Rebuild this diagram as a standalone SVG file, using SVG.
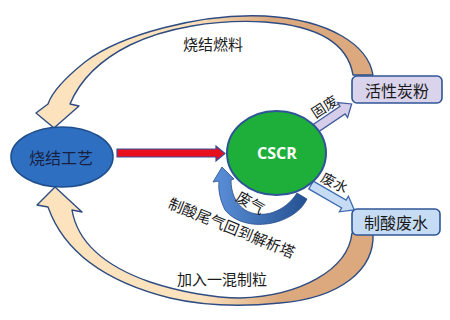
<svg xmlns="http://www.w3.org/2000/svg" width="450" height="320" viewBox="0 0 450 320">
<style>
.t{font-family:"Noto Sans CJK SC","Noto Sans",sans-serif;fill:#1a1a1a;text-anchor:middle;dominant-baseline:central}
.band{stroke:#2E4C82;stroke-width:1.4;stroke-linejoin:round}
.box{stroke:#2F5597;stroke-width:1.6}
</style>
<defs>
<linearGradient id="gTop" gradientUnits="userSpaceOnUse" x1="190" y1="0" x2="270" y2="0">
<stop offset="0" stop-color="#FCE3BE"/><stop offset="1" stop-color="#DBA97D"/>
</linearGradient>
<linearGradient id="gBot" gradientUnits="userSpaceOnUse" x1="200" y1="0" x2="280" y2="0">
<stop offset="0" stop-color="#FCE3BE"/><stop offset="1" stop-color="#DBA97D"/>
</linearGradient>
<linearGradient id="gLoop" gradientUnits="userSpaceOnUse" x1="215" y1="0" x2="308" y2="0">
<stop offset="0" stop-color="#5A8FD8"/><stop offset="1" stop-color="#24508F"/>
</linearGradient>
</defs>
<rect width="450" height="320" fill="#ffffff"/>
<g id="connectors">
<path class="band" fill="url(#gTop)" d="M373,75 C368,45 330,20 265,16 C200,13 120,35 85,62 C65,78 52,92 48,104 L36,113 L54,128 L79,106 L70,104 C80,80 100,60 130,45 C165,28 215,19 265,22 C320,26 348,45 353,75 Z"/>
<path class="band" fill="url(#gBot)" d="M373,233 C375,270 340,298 280,303 C240,307 200,305 170,298 C110,283 65,255 48,207 L37,205 L55,187 L82,212 L72,210 C78,245 110,268 150,282 C180,292 215,298 240,298 C300,296 348,270 352,233 Z"/>
<polygon points="117,149 216,149 216,146 225,153.5 216,161 216,157 117,157" fill="#E8101C" stroke="#3A4FA0" stroke-width="1.2"/>
<polygon transform="translate(316,128) rotate(-34)" points="0,-4.5 32,-4.5 32,-9 43,0 32,9 32,4.5 0,4.5" fill="#D6CDEA" stroke="#3F5C9C" stroke-width="1.3"/>
<polygon transform="translate(311,185) rotate(30)" points="0,-4.5 38,-4.5 38,-9 50,0 38,9 38,4.5 0,4.5" fill="#C6DCF5" stroke="#3F6CB0" stroke-width="1.3"/>
<path fill="url(#gLoop)" stroke="#2A4F8C" stroke-width="0.8" d="M307,199 C295,225 245,235 225,210 C220,200 218,190 219,181 L213,182 L222,167 L234,179 L231,180 C231,192 235,203 245,210 C262,220 285,212 297,193 Z"/>
<text class="t" x="213" y="43" font-size="15">烧结燃料</text>
<text class="t" x="324" y="106" font-size="14" transform="rotate(-33 324 106)">固废</text>
<text class="t" x="335" y="182" font-size="14" transform="rotate(27 335 182)">废水</text>
<text class="t" x="251" y="202" font-size="15" transform="rotate(30 251 202)">废气</text>
<text class="t" x="232" y="227" font-size="15" transform="rotate(22 232 227)">制酸尾气回到解析塔</text>
<text class="t" x="222" y="278" font-size="15">加入一混制粒</text>
</g>
<g id="node-sinter">
<ellipse cx="62" cy="157" rx="51" ry="30" fill="#2F6FC2" stroke="#1F4E8C" stroke-width="1.6"/>
<text class="t" x="61" y="157" font-size="16" style="fill:#17213F">烧结工艺</text>
</g>
<g id="node-cscr">
<ellipse cx="276.5" cy="153" rx="49.5" ry="42" fill="#1DAF3A" stroke="#2F5597" stroke-width="2"/>
<text x="277" y="153" font-family="'Open Sans','Liberation Sans',sans-serif" font-weight="bold" font-size="16" fill="#ffffff" text-anchor="middle" dominant-baseline="central">CSCR</text>
</g>
<g id="node-carbon">
<rect class="box" x="352" y="76" width="90" height="27" rx="5" fill="#D9D3EC"/>
<text class="t" x="397" y="89.5" font-size="16">活性炭粉</text>
</g>
<g id="node-water">
<rect class="box" x="352" y="209" width="88" height="26" rx="5" fill="#C6DCF5"/>
<text class="t" x="396" y="222" font-size="16">制酸废水</text>
</g>
</svg>
